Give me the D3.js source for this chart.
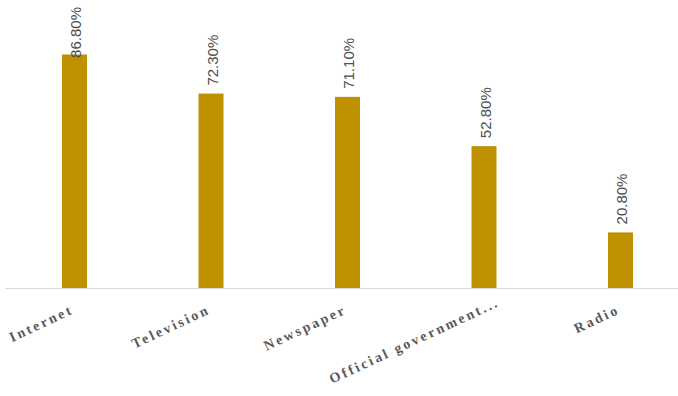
<!DOCTYPE html>
<html>
<head>
<meta charset="utf-8">
<script src="https://cdn.jsdelivr.net/npm/d3@7"></script>
<style>
	body { margin: 0; background: #fff; }
	svg { display: block; }
</style>
</head>
<body>
<div id="chart"></div>
<script>

// data
var categories = ["Internet", "Television", "Newspaper", "Official government...", "Radio"];
var values = [86.8, 72.3, 71.1, 52.8, 20.8];
var valueLabels = ["86.80%", "72.30%", "71.10%", "52.80%", "20.80%"];

var width = 678, height = 396;
var baseY = 288.5;

var svg = d3.select("#chart").append("svg")
	.attr("width", width)
	.attr("height", height);

// x: one band per category, narrow bars
var xScale = d3.scaleBand()
	.domain(categories)
	.range([6.25, 688.75])
	.paddingInner(0.817)
	.paddingOuter(0.4085);

var yScale = d3.scaleLinear()
	.domain([0, 100])
	.range([baseY, 18.9]);

var g = svg.append("g");

// bars
g.selectAll("rect.bar")
	.data(values).enter()
	.append("rect")
		.attr("class", "bar")
		.attr("x", function(d, i){ return xScale(categories[i]) })
		.attr("y", function(d){ return yScale(d) })
		.attr("width", xScale.bandwidth())
		.attr("height", function(d){ return baseY - yScale(d) })
		.style("fill", "#bf9000");

// axis line (no ticks)
var xAxis = d3.axisBottom(xScale).tickSize(0).tickFormat("");
var axisG = svg.append("g")
	.attr("class", "x axis")
	.attr("transform", "translate(0," + baseY + ")")
	.call(xAxis);
axisG.select(".domain")
	.attr("d", "M5,0H678")
	.attr("stroke", "#d9d9d9")
	.attr("stroke-width", 1.2);

// category labels, rotated
svg.selectAll("text.cat")
	.data(categories).enter()
	.append("text")
		.attr("class", "cat")
		.attr("transform", function(d){
			var cx = xScale(d) + xScale.bandwidth() / 2;
			return "translate(" + cx + ",313) rotate(-25)";
		})
		// truncated label sits further along its baseline
		.attr("dx", function(d){ return d.slice(-3) == "..." ? 18 : 0 })
		.style("text-anchor", "end")
		.style("font-family", "'Liberation Serif', 'Times New Roman', serif")
		.style("font-weight", "bold")
		.style("font-size", "14px")
		.style("letter-spacing", "2.5px")
		.style("fill", "#595959")
		.text(function(d){ return d });

// value labels, vertical
var vl = svg.selectAll("text.val")
	.data(values).enter()
	.append("text")
		.attr("class", "val")
		.style("font-family", "'Liberation Sans', Arial, sans-serif")
		.style("font-size", "15px")
		.style("fill", "#4d4d4d")
		.attr("dy", "0.35em")
		.text(function(d, i){ return valueLabels[i] });

vl.attr("transform", function(d, i){
	var len = this.getComputedTextLength();
	var cx = xScale(categories[i]) + xScale.bandwidth() / 2 + 1.5;
	var start = Math.max(yScale(d) - 8, 7 + len);	// keep inside the top
	return "translate(" + cx + "," + start + ") rotate(-90)";
});

</script>
</body>
</html>
